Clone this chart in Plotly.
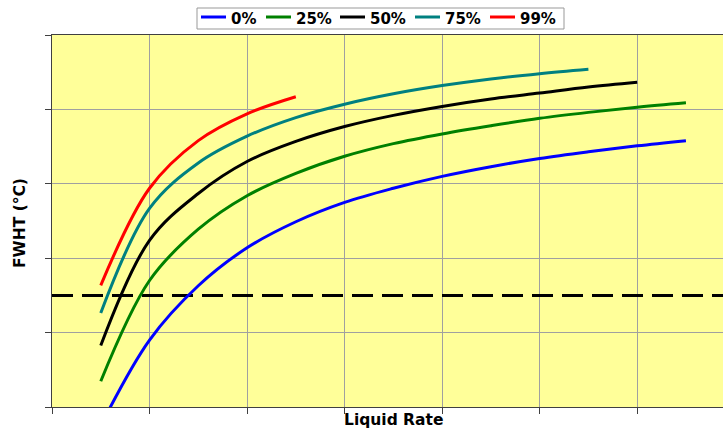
import plotly.graph_objects as go

# Flowing wellhead temperature vs liquid rate, one curve per water cut
series_names = ["0%", "25%", "50%", "75%", "99%"]
series_colors = ["#0000FF", "#008000", "#000000", "#008080", "#FF0000"]

x_0 = [0.5, 1.0, 1.5, 2.0, 2.5, 3.0, 3.5, 4.0, 4.5, 5.0, 5.5, 6.0, 6.5]
y_0 = [-0.25, 0.90, 1.63, 2.14, 2.49, 2.75, 2.94, 3.10, 3.23, 3.34, 3.43, 3.51, 3.58]

x_25 = [0.5, 1.0, 1.5, 2.0, 2.5, 3.0, 3.5, 4.0, 4.5, 5.0, 5.5, 6.0, 6.5]
y_25 = [0.346, 1.70, 2.39, 2.84, 3.14, 3.37, 3.54, 3.67, 3.78, 3.88, 3.96, 4.03, 4.09]

x_50 = [0.5, 1.0, 1.5, 2.0, 2.5, 3.0, 3.5, 4.0, 4.5, 5.0, 5.5, 6.0]
y_50 = [0.826, 2.24, 2.87, 3.30, 3.57, 3.77, 3.92, 4.04, 4.14, 4.22, 4.30, 4.365]

x_75 = [0.5, 1.0, 1.5, 2.0, 2.5, 3.0, 3.5, 4.0, 4.5, 5.0, 5.5]
y_75 = [1.264, 2.67, 3.28, 3.64, 3.89, 4.07, 4.21, 4.32, 4.41, 4.48, 4.54]

x_99 = [0.5, 1.0, 1.5, 2.0, 2.5]
y_99 = [1.635, 2.94, 3.58, 3.94, 4.17]

# Horizontal reference level
ref_level = 1.5
x_range = [0, 6.88]
y_range = [0, 5]

xs = [x_0, x_25, x_50, x_75, x_99]
ys = [y_0, y_25, y_50, y_75, y_99]

# Figure geometry (pixels)
W, H = 723, 429
M_L, M_R, M_T, M_B = 52, 0, 35, 22
PW = W - M_L - M_R
PH = H - M_T - M_B


def px_x(px):
    return (px - M_L) / PW


def px_y(py):
    return (H - M_B - py) / PH


fig = go.Figure()

fig.add_trace(go.Scatter(
    x=x_range, y=[ref_level, ref_level], mode="lines",
    line=dict(color="#000000", width=3, dash="21px,9px"),
    showlegend=False, hoverinfo="skip",
))

for name, color, xv, yv in zip(series_names, series_colors, xs, ys):
    fig.add_trace(go.Scatter(
        x=xv, y=yv, mode="lines", name=name, showlegend=False,
        line=dict(color=color, width=3, shape="spline", smoothing=1),
    ))

title_font = dict(family="DejaVu Sans", size=15.5, color="#000000")
legend_font = dict(family="DejaVu Sans", size=15, color="#000000")

# Legend box drawn across the top
legend_box = dict(left=197, right=564, top=8, bottom=29)
legend_slots = [201, 266, 340, 415, 490]
sample_len = 25
text_gap = 5
sample_y = 17
text_y = 19

shapes = [dict(
    type="rect", xref="paper", yref="paper", layer="above",
    x0=px_x(legend_box["left"]), x1=px_x(legend_box["right"]),
    y0=px_y(legend_box["bottom"]), y1=px_y(legend_box["top"]),
    line=dict(color="#999999", width=1), fillcolor="#FFFFFF",
)]
annotations = []
for name, color, sx in zip(series_names, series_colors, legend_slots):
    shapes.append(dict(
        type="line", xref="paper", yref="paper", layer="above",
        x0=px_x(sx), x1=px_x(sx + sample_len),
        y0=px_y(sample_y), y1=px_y(sample_y),
        line=dict(color=color, width=3),
    ))
    annotations.append(dict(
        text=f"<b>{name}</b>", xref="paper", yref="paper",
        x=px_x(sx + sample_len + text_gap - 2), y=px_y(text_y),
        xanchor="left", yanchor="middle", showarrow=False, font=legend_font,
    ))

annotations += [
    dict(text="<b>Liquid Rate</b>", xref="paper", yref="paper",
         x=px_x(393), y=px_y(420), xanchor="center", yanchor="middle",
         showarrow=False, font=title_font),
    dict(text="<b>FWHT (°C)</b>", xref="paper", yref="paper",
         x=px_x(20), y=px_y(223), xanchor="center", yanchor="middle",
         textangle=-90, showarrow=False, font=title_font),
]

fig.update_layout(
    width=W, height=H,
    margin=dict(l=M_L, r=M_R, t=M_T, b=M_B),
    paper_bgcolor="#FFFFFF",
    plot_bgcolor="#FFFF99",
    font=dict(family="DejaVu Sans", size=14, color="#000000"),
    showlegend=False,
    xaxis=dict(
        range=x_range, dtick=1, tick0=0,
        showgrid=True, gridcolor="#A0A0A0", gridwidth=1,
        showline=True, linecolor="#404040", linewidth=1, mirror=True,
        ticks="outside", ticklen=6, tickcolor="#404040",
        showticklabels=False, zeroline=False,
    ),
    yaxis=dict(
        range=y_range, dtick=1, tick0=0,
        showgrid=True, gridcolor="#A0A0A0", gridwidth=1,
        showline=True, linecolor="#404040", linewidth=1,
        ticks="outside", ticklen=6, tickcolor="#404040",
        showticklabels=False, zeroline=False,
    ),
    shapes=shapes,
    annotations=annotations,
)

fig.write_html("out.html")
